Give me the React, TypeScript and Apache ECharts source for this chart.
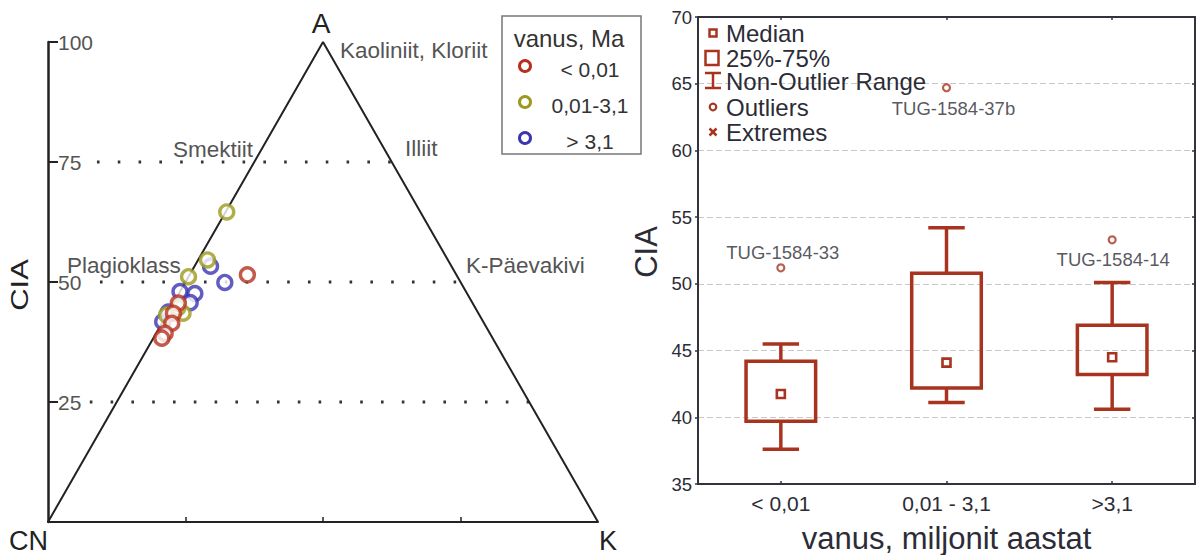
import React, { useEffect, useRef } from "react";
import * as echarts from "echarts";

// ---------- Ternary diagram (A - CN - K) ----------
const cnkTicks = [25, 50, 75];
const ciaLevels = [75, 50, 25];
const guideStarts = [8.9, 9.45, 7.6];

const groupNames = ["< 0,01", "0,01-3,1", "> 3,1"];
const groupColors = ["#b5311e", "#9c9a1e", "#3b35b0"];

const redCIA = [51.5, 45.6, 43.5, 41.4, 39.3, 38.3];
const redK = [10.5, 0.9, 1.05, 1.8, 1.65, 1.55];
const greenCIA = [64.6, 54.6, 51.1, 43.1, 43.5, 44.6];
const greenK = [0.2, 1.7, 0, 0, 2.8, 1.3];
const blueCIA = [53.3, 49.9, 48.0, 47.6, 45.7, 41.7, 43.75];
const blueK = [2.9, 7.2, 0, 2.9, 3.0, 0, 0];

const mineralNames = ["Kaoliniit, Kloriit", "Smektiit", "Illiit", "Plagioklass", "K-Päevakivi"];

// ---------- Box plot ----------
const ageCategories = ["< 0,01", "0,01 - 3,1", ">3,1"];
const whiskerLow = [37.6, 41.1, 40.6];
const q1 = [39.7, 42.2, 43.2];
const medians = [41.75, 44.1, 44.5];
const q3 = [44.2, 50.8, 46.9];
const whiskerHigh = [45.5, 54.2, 50.1];
const outlierCat = [0, 1, 2];
const outlierCIA = [51.2, 64.7, 53.3];
const outlierNames = ["TUG-1584-33", "TUG-1584-37b", "TUG-1584-14"];
const boxLegend = ["Median", "25%-75%", "Non-Outlier Range", "Outliers", "Extremes"];

const FONT = "Liberation Sans, Arial, Helvetica, sans-serif";
const BOX = "#a8341f";
const DARK = "#2c2c36";

function ternaryPoints(cia: number[], k: number[]) {
  return cia.map((a, i) => [k[i] + a / 2, a]);
}

export default function App() {
  const ref = useRef<HTMLDivElement>(null);

  useEffect(() => {
    if (!ref.current) return;
    const chart = echarts.init(ref.current, undefined, { renderer: "svg" });

    const groups = [
      { cia: blueCIA, k: blueK, color: groupColors[2], name: groupNames[2] },
      { cia: greenCIA, k: greenK, color: groupColors[1], name: groupNames[1] },
      { cia: redCIA, k: redK, color: groupColors[0], name: groupNames[0] },
    ];

    const guideSeries = ciaLevels.map((lvl, i) => ({
      type: "line",
      xAxisIndex: 0,
      yAxisIndex: 0,
      data: [
        [guideStarts[i], lvl],
        [100 - lvl / 2, lvl],
      ],
      symbol: "none",
      silent: true,
      z: 1,
      lineStyle: { color: "#333", width: 2.8, type: [2.6, 18.2] },
    }));

    const boxData = ageCategories.map((_, i) => [
      i,
      whiskerLow[i],
      q1[i],
      medians[i],
      q3[i],
      whiskerHigh[i],
    ]);

    const labelPlacement = [
      { position: "top", distance: 1, offset: [2, 0] },
      { position: "bottom", distance: 7, offset: [7, 0] },
      { position: "bottom", distance: 6, offset: [1, 0] },
    ];

    const legendY = [33, 58, 81, 107, 132];

    const option: any = {
      animation: false,
      backgroundColor: "#fff",
      textStyle: { fontFamily: FONT },
      grid: [
        { left: 48, top: 42, width: 550, height: 480, outerBoundsMode: "none", containLabel: false },
        { left: 698, top: 17, width: 497, height: 467, outerBoundsMode: "none", containLabel: false },
      ],
      xAxis: [
        {
          gridIndex: 0,
          type: "value",
          min: 0,
          max: 100,
          interval: 25,
          axisLine: { show: true, lineStyle: { color: "#222", width: 2 } },
          axisTick: { show: true, inside: true, length: 5, customValues: cnkTicks, lineStyle: { color: "#222", width: 1.5 } },
          axisLabel: { show: false },
          splitLine: { show: false },
        },
        {
          gridIndex: 1,
          type: "category",
          data: ageCategories,
          boundaryGap: true,
          axisLine: { show: true, lineStyle: { color: "#33333d", width: 2 } },
          axisTick: { show: true, inside: true, alignWithLabel: true, length: 3, lineStyle: { color: "#33333d", width: 1.5 } },
          axisLabel: { show: true, fontSize: 21, color: DARK, margin: 9, fontFamily: FONT },
          name: "vanus, miljonit aastat",
          nameLocation: "middle",
          nameGap: 39,
          nameTextStyle: { fontSize: 31, color: DARK, fontFamily: FONT },
          splitLine: { show: false },
        },
        {
          gridIndex: 1,
          type: "category",
          data: ageCategories,
          position: "top",
          boundaryGap: true,
          axisLine: { show: true, lineStyle: { color: "#33333d", width: 2 } },
          axisTick: { show: true, inside: true, alignWithLabel: true, length: 3, lineStyle: { color: "#33333d", width: 1.5 } },
          axisLabel: { show: false },
          splitLine: { show: false },
        },
      ],
      yAxis: [
        {
          gridIndex: 0,
          type: "value",
          min: 0,
          max: 100,
          interval: 25,
          axisLine: { show: true, lineStyle: { color: "#222", width: 2.5 } },
          axisTick: { show: true, inside: true, length: 10, lineStyle: { color: "#222", width: 2 } },
          axisLabel: {
            show: true,
            inside: true,
            margin: 10,
            fontSize: 21,
            color: "#555",
            fontFamily: FONT,
            formatter: (v: number) => (v === 0 ? "" : String(v)),
          },
          splitLine: { show: false },
        },
        {
          gridIndex: 1,
          type: "value",
          min: 35,
          max: 70,
          interval: 5,
          axisLine: { show: true, lineStyle: { color: "#33333d", width: 2 } },
          axisTick: { show: true, inside: false, length: 3, lineStyle: { color: "#33333d", width: 1.5 } },
          axisLabel: { show: true, fontSize: 18.5, color: DARK, margin: 6, fontFamily: FONT },
          splitLine: { show: true, lineStyle: { color: "#c9c9c9", width: 1, type: [6, 3] } },
        },
        {
          gridIndex: 1,
          type: "value",
          min: 35,
          max: 70,
          interval: 5,
          position: "right",
          axisLine: { show: true, lineStyle: { color: "#33333d", width: 2 } },
          axisTick: { show: true, inside: true, length: 3, lineStyle: { color: "#33333d", width: 1.5 } },
          axisLabel: { show: false },
          splitLine: { show: false },
        },
      ],
      series: [
        ...guideSeries,
        {
          type: "line",
          xAxisIndex: 0,
          yAxisIndex: 0,
          data: [
            [0, 0],
            [50, 100],
            [100, 0],
          ],
          symbol: "none",
          silent: true,
          z: 2,
          lineStyle: { color: "#222", width: 2 },
        },
        ...groups.map((g) => ({
          type: "scatter",
          name: g.name,
          xAxisIndex: 0,
          yAxisIndex: 0,
          data: ternaryPoints(g.cia, g.k),
          symbol: "circle",
          symbolSize: 14,
          z: 3,
          itemStyle: { color: "#fff", borderColor: g.color, borderWidth: 3.4 },
        })),
        {
          type: "custom",
          xAxisIndex: 1,
          yAxisIndex: 1,
          data: boxData,
          encode: { x: 0, y: [1, 2, 3, 4, 5] },
          z: 3,
          renderItem: (params: any, api: any) => {
            const i = api.value(0);
            const bandW = api.size([1, 0])[0];
            const bw = bandW * 0.42;
            const cw = bandW * 0.22;
            const pLo = api.coord([i, api.value(1)]);
            const pQ1 = api.coord([i, api.value(2)]);
            const pMed = api.coord([i, api.value(3)]);
            const pQ3 = api.coord([i, api.value(4)]);
            const pHi = api.coord([i, api.value(5)]);
            const x = pMed[0];
            const st = { stroke: BOX, lineWidth: 3.5, fill: "none" };
            return {
              type: "group",
              children: [
                { type: "line", shape: { x1: x, y1: pLo[1], x2: x, y2: pQ1[1] }, style: st },
                { type: "line", shape: { x1: x, y1: pQ3[1], x2: x, y2: pHi[1] }, style: st },
                { type: "line", shape: { x1: x - cw / 2, y1: pLo[1], x2: x + cw / 2, y2: pLo[1] }, style: st },
                { type: "line", shape: { x1: x - cw / 2, y1: pHi[1], x2: x + cw / 2, y2: pHi[1] }, style: st },
                {
                  type: "rect",
                  shape: { x: x - bw / 2, y: pQ3[1], width: bw, height: pQ1[1] - pQ3[1] },
                  style: { stroke: BOX, lineWidth: 3.5, fill: "rgba(255,255,255,0)" },
                },
                {
                  type: "rect",
                  shape: { x: x - 4, y: pMed[1] - 4, width: 8, height: 8 },
                  style: { stroke: BOX, lineWidth: 2.6, fill: "#fff" },
                },
              ],
            };
          },
        },
        {
          type: "scatter",
          xAxisIndex: 1,
          yAxisIndex: 1,
          symbol: "circle",
          symbolSize: 7,
          z: 4,
          itemStyle: { color: "#fff", borderColor: BOX, borderWidth: 2.2 },
          data: outlierCat.map((c, i) => ({
            value: [c, outlierCIA[i]],
            name: outlierNames[i],
            label: {
              show: true,
              formatter: outlierNames[i],
              position: labelPlacement[i].position,
              distance: labelPlacement[i].distance,
              offset: labelPlacement[i].offset,
              fontSize: 18.5,
              color: DARK,
              fontFamily: FONT,
            },
          })),
        },
      ],
      graphic: [
        // ternary vertex labels
        { type: "text", x: 321, y: 23, style: { text: "A", fontSize: 28, fill: "#222", fontFamily: FONT, align: "center", verticalAlign: "middle" } },
        { type: "text", x: 9, y: 541, style: { text: "CN", fontSize: 27, fill: "#222", fontFamily: FONT, align: "left", verticalAlign: "middle" } },
        { type: "text", x: 599, y: 541, style: { text: "K", fontSize: 27, fill: "#222", fontFamily: FONT, align: "left", verticalAlign: "middle" } },
        {
          type: "text",
          x: 20,
          y: 285,
          rotation: Math.PI / 2,
          scaleY: 0.8,
          style: { text: "CIA", fontSize: 31, fill: "#222", fontFamily: FONT, align: "center", verticalAlign: "middle" },
        },
        // mineral annotations
        { type: "text", x: 340, y: 50, style: { text: mineralNames[0], fontSize: 22.5, fill: "#555", fontFamily: FONT, align: "left", verticalAlign: "middle" } },
        { type: "text", x: 173, y: 149, style: { text: mineralNames[1], fontSize: 22.5, fill: "#555", fontFamily: FONT, align: "left", verticalAlign: "middle" } },
        { type: "text", x: 405, y: 148, style: { text: mineralNames[2], fontSize: 22.5, fill: "#555", fontFamily: FONT, align: "left", verticalAlign: "middle" } },
        { type: "text", x: 67, y: 265, style: { text: mineralNames[3], fontSize: 22.5, fill: "#555", fontFamily: FONT, align: "left", verticalAlign: "middle" } },
        { type: "text", x: 466, y: 265, style: { text: mineralNames[4], fontSize: 22.5, fill: "#555", fontFamily: FONT, align: "left", verticalAlign: "middle" } },
        // ternary legend
        { type: "rect", shape: { x: 502, y: 16, width: 139, height: 138 }, style: { fill: "#fff", stroke: "#777", lineWidth: 1.5 }, z: 10 },
        { type: "text", x: 569, y: 38, z: 11, style: { text: "vanus, Ma", fontSize: 24, fill: "#333", fontFamily: FONT, align: "center", verticalAlign: "middle" } },
        ...groupNames.map((n, i) => ({
          type: "circle",
          z: 11,
          shape: { cx: 525, cy: 66 + i * 36, r: 5.5 },
          style: { fill: "#fff", stroke: groupColors[i], lineWidth: 3 },
        })),
        ...groupNames.map((n, i) => ({
          type: "text",
          x: 590,
          y: 69 + i * 36,
          z: 11,
          style: { text: n, fontSize: 21, fill: "#333", fontFamily: FONT, align: "center", verticalAlign: "middle" },
        })),
        // box plot y name
        {
          type: "text",
          x: 646,
          y: 252,
          rotation: Math.PI / 2,
          style: { text: "CIA", fontSize: 31, fill: DARK, fontFamily: FONT, align: "center", verticalAlign: "middle" },
        },
        // box plot legend symbols
        { type: "rect", z: 11, shape: { x: 709.5, y: legendY[0] - 3.5, width: 7, height: 7 }, style: { fill: "#fff", stroke: BOX, lineWidth: 2.5 } },
        { type: "rect", z: 11, shape: { x: 705.5, y: legendY[1] - 7, width: 13, height: 14 }, style: { fill: "#fff", stroke: BOX, lineWidth: 2.5 } },
        { type: "line", z: 11, shape: { x1: 705, y1: legendY[2] - 8, x2: 721, y2: legendY[2] - 8 }, style: { stroke: BOX, lineWidth: 2.5 } },
        { type: "line", z: 11, shape: { x1: 705, y1: legendY[2] + 7, x2: 721, y2: legendY[2] + 7 }, style: { stroke: BOX, lineWidth: 2.5 } },
        { type: "line", z: 11, shape: { x1: 713, y1: legendY[2] - 8, x2: 713, y2: legendY[2] + 7 }, style: { stroke: BOX, lineWidth: 2.5 } },
        { type: "circle", z: 11, shape: { cx: 713, cy: legendY[3], r: 3.3 }, style: { fill: "#fff", stroke: BOX, lineWidth: 2.2 } },
        { type: "line", z: 11, shape: { x1: 709.5, y1: legendY[4] - 3.5, x2: 716.5, y2: legendY[4] + 3.5 }, style: { stroke: BOX, lineWidth: 2.5 } },
        { type: "line", z: 11, shape: { x1: 716.5, y1: legendY[4] - 3.5, x2: 709.5, y2: legendY[4] + 3.5 }, style: { stroke: BOX, lineWidth: 2.5 } },
        ...boxLegend.map((t, i) => ({
          type: "text",
          x: 726,
          y: legendY[i],
          z: 11,
          style: { text: t, fontSize: 24, fill: DARK, fontFamily: FONT, align: "left", verticalAlign: "middle" },
        })),
      ],
    };

    chart.setOption(option);
    return () => chart.dispose();
  }, []);

  return (
    <div
      ref={ref}
      style={{ position: "fixed", left: 0, top: 0, width: 1197, height: 555, background: "#fff" }}
    />
  );
}
